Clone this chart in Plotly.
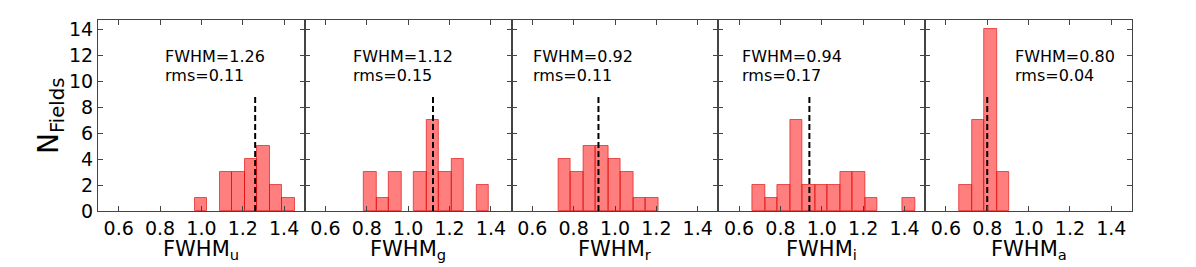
import plotly.graph_objects as go
from plotly.subplots import make_subplots

# ---- data ----
bands = ["u", "g", "r", "i", "a"]
fwhm_vals = [1.26, 1.12, 0.92, 0.94, 0.80]
rms_vals = [0.11, 0.15, 0.11, 0.17, 0.04]
bin_edges = [0.664, 0.725, 0.786, 0.846, 0.907, 0.968, 1.028, 1.089,
             1.150, 1.210, 1.271, 1.331, 1.392, 1.453]
counts_u = [0, 0, 0, 0, 0, 1, 0, 3, 3, 4, 5, 2, 1]
counts_g = [0, 0, 3, 1, 3, 0, 3, 7, 3, 4, 0, 2, 0]
counts_r = [0, 4, 3, 5, 5, 4, 3, 1, 1, 0, 0, 0, 0]
counts_i = [2, 1, 2, 7, 2, 2, 2, 3, 3, 1, 0, 0, 1]
counts_a = [2, 7, 14, 3, 0, 0, 0, 0, 0, 0, 0, 0, 0]
all_counts = [counts_u, counts_g, counts_r, counts_i, counts_a]
marker_top = 9
x_ticks = [0.6, 0.8, 1.0, 1.2, 1.4]
y_ticks = [0, 2, 4, 6, 8, 10, 12, 14]
text_x = [0.813, 0.722, 0.592, 0.605, 0.926]

FONT = "DejaVu Sans"
FRAME = "#444444"

fig = make_subplots(rows=1, cols=5, shared_yaxes=False, horizontal_spacing=0)

for k, band in enumerate(bands):
    col = k + 1
    cnt = all_counts[k]
    xs, ys, ws = [], [], []
    for j, c in enumerate(cnt):
        if c > 0:
            lo, hi = bin_edges[j], bin_edges[j + 1]
            xs.append((lo + hi) / 2)
            ys.append(c)
            ws.append(hi - lo)
    fig.add_trace(go.Bar(
        x=xs, y=ys, width=ws,
        marker=dict(color="rgba(255,0,0,0.5)",
                    line=dict(color="rgba(220,0,0,0.6)", width=1)),
        showlegend=False, hoverinfo="skip"), row=1, col=col)
    fig.add_trace(go.Scatter(
        x=[fwhm_vals[k], fwhm_vals[k]], y=[0, marker_top], mode="lines",
        line=dict(color="black", width=2, dash="6px,3px"),
        showlegend=False, hoverinfo="skip"), row=1, col=col)

    xa = "x" if k == 0 else f"x{col}"
    ya = "y" if k == 0 else f"y{col}"
    fig.add_annotation(x=text_x[k], y=11.9, xref=xa, yref=ya,
                       text=f"FWHM={fwhm_vals[k]:.2f}", showarrow=False,
                       xanchor="left", yanchor="middle",
                       font=dict(family=FONT, size=16, color="black"))
    fig.add_annotation(x=text_x[k], y=10.45, xref=xa, yref=ya,
                       text=f"rms={rms_vals[k]:.2f}", showarrow=False,
                       xanchor="left", yanchor="middle",
                       font=dict(family=FONT, size=16, color="black"))
    # x-axis title as annotation (centered below the panel)
    fig.add_annotation(x=(k + 0.5) / 5, y=-0.125, xref="paper", yref="paper",
                       text=f"FWHM<sub>{band}</sub>", showarrow=False,
                       xanchor="center", yanchor="top",
                       font=dict(family=FONT, size=21, color="black"))

    fig.update_xaxes(
        range=[0.5, 1.5], tickvals=x_ticks,
        ticktext=[f"{t:.1f}" for t in x_ticks],
        ticks="inside", ticklen=5, tickcolor=FRAME, tickwidth=1,
        showline=True, linecolor=FRAME, linewidth=1, mirror="allticks",
        showgrid=False, zeroline=False,
        tickfont=dict(family=FONT, size=19, color="black"),
        row=1, col=col)
    fig.update_yaxes(
        range=[0, 14.73], tickvals=y_ticks,
        ticks="inside", ticklen=5, tickcolor=FRAME, tickwidth=1,
        showline=True, linecolor=FRAME, linewidth=1, mirror="allticks",
        showgrid=False, zeroline=False,
        showticklabels=(k == 0),
        tickfont=dict(family=FONT, size=19, color="black"),
        row=1, col=col)

# y-axis title as rotated annotation
fig.add_annotation(x=-0.046, y=0.5, xref="paper", yref="paper",
                   text="N<sub>Fields</sub>", showarrow=False, textangle=-90,
                   xanchor="center", yanchor="middle",
                   font=dict(family=FONT, size=28, color="black"))

# page body has an 8px margin: figure is sized/shifted to compensate
fig.update_layout(
    width=1180, height=259,
    margin=dict(l=90, r=56, t=12, b=56, autoexpand=False),
    paper_bgcolor="white", plot_bgcolor="white",
    bargap=0, barmode="overlay",
    font=dict(family=FONT, color="black"),
)

fig.write_html("out.html")
